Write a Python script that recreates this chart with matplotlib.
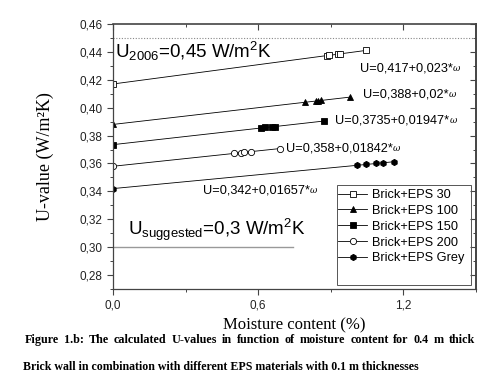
import matplotlib
matplotlib.use("Agg")
import matplotlib.pyplot as plt
from matplotlib.patches import Rectangle
from matplotlib.ticker import MultipleLocator, FuncFormatter, NullFormatter

# moisture content (%) and U-values for each brick + EPS wall
x_eps30 = [0, 0.885, 0.893, 0.931, 0.939, 1.047]
u_eps30 = [0.417, 0.4374, 0.4375, 0.4384, 0.4386, 0.4411]
x_eps100 = [0, 0.794, 0.84, 0.848, 0.86, 0.98]
u_eps100 = [0.388, 0.4039, 0.4048, 0.4050, 0.4052, 0.4076]
x_eps150 = [0, 0.61, 0.63, 0.655, 0.67, 0.87]
u_eps150 = [0.3735, 0.3854, 0.3858, 0.3863, 0.3865, 0.3904]
x_eps200 = [0, 0.50, 0.53, 0.54, 0.57, 0.69]
u_eps200 = [0.358, 0.3672, 0.3678, 0.3679, 0.3685, 0.3707]
x_grey = [0, 1.01, 1.047, 1.088, 1.117, 1.163]
u_grey = [0.342, 0.3587, 0.3593, 0.3600, 0.3605, 0.3613]

u_2006 = 0.45
u_suggested = 0.30
suggested_end = 0.745

fits = ["U=0,417+0,023*", "U=0,388+0,02*", "U=0,3735+0,01947*",
        "U=0,358+0,01842*", "U=0,342+0,01657*"]
fit_pos = [(1.022, 0.428), (1.034, 0.4098), (0.918, 0.3905),
           (0.716, 0.3708), (0.372, 0.3405)]

caption1 = "Figure 1.b: The calculated U-values in function of moisture content for 0.4 m thick"
caption2 = "Brick wall in combination with different EPS materials with 0.1 m thicknesses"

sans = "Liberation Sans"
serif = "Liberation Serif"
plt.rcParams["mathtext.fontset"] = "custom"
plt.rcParams["mathtext.rm"] = sans
plt.rcParams["mathtext.default"] = "regular"

fig = plt.figure(figsize=(4.97, 3.86), dpi=100)
ax = fig.add_axes([0.2274, 0.2513, 0.9577 - 0.2274, 0.9378 - 0.2513])

series = [
    (x_eps30, u_eps30, "s", "white", "Brick+EPS 30"),
    (x_eps100, u_eps100, "^", "black", "Brick+EPS 100"),
    (x_eps150, u_eps150, "s", "black", "Brick+EPS 150"),
    (x_eps200, u_eps200, "o", "white", "Brick+EPS 200"),
    (x_grey, u_grey, "h", "black", "Brick+EPS Grey"),
]
for xs, us, m, fc, lab in series:
    ax.plot(xs, us, color="black", lw=0.6, marker=m, ms=4.5, mfc=fc,
            mec="black", mew=0.6, label=lab)

ax.axhline(u_2006, color="#888888", lw=0.8, ls=(0, (1, 1.5)))
ax.plot([0, suggested_end], [u_suggested, u_suggested], color="#999999", lw=1.0)

ax.set_xlim(0, 1.5)
ax.set_ylim(0.27, 0.46)
ax.xaxis.set_major_locator(MultipleLocator(0.6))
ax.xaxis.set_minor_locator(MultipleLocator(0.3))
ax.yaxis.set_major_locator(MultipleLocator(0.02))
ax.yaxis.set_minor_locator(MultipleLocator(0.01))
ax.xaxis.set_major_formatter(FuncFormatter(lambda v, p: f"{v:.1f}".replace(".", ",")))
ax.yaxis.set_major_formatter(FuncFormatter(lambda v, p: f"{v:.2f}".replace(".", ",")))
ax.tick_params(which="both", direction="out", color="#444444")
ax.tick_params(which="major", length=4, width=0.8, labelsize=8.5)
ax.tick_params(which="minor", length=2, width=0.7)
for lbl in ax.get_xticklabels() + ax.get_yticklabels():
    lbl.set_fontfamily(sans)
    lbl.set_color("#222222")
for s in ax.spines.values():
    s.set_color("#444444")
    s.set_linewidth(0.9)
ax.spines["top"].set_linewidth(1.2)
ax.spines["right"].set_linewidth(1.4)

# mirrored ticks on top / right point inwards
top = ax.secondary_xaxis("top")
top.xaxis.set_major_locator(MultipleLocator(0.6))
top.xaxis.set_minor_locator(MultipleLocator(0.3))
top.xaxis.set_major_formatter(NullFormatter())
top.tick_params(which="both", direction="in", color="#444444")
top.tick_params(which="major", length=4, width=0.8)
top.tick_params(which="minor", length=2, width=0.7)
top.spines["top"].set_visible(False)
rgt = ax.secondary_yaxis("right")
rgt.yaxis.set_major_locator(MultipleLocator(0.02))
rgt.yaxis.set_minor_locator(MultipleLocator(0.01))
rgt.yaxis.set_major_formatter(NullFormatter())
rgt.tick_params(which="both", direction="in", color="#444444")
rgt.tick_params(which="major", length=4, width=0.8)
rgt.tick_params(which="minor", length=2, width=0.7)
rgt.spines["right"].set_visible(False)

ax.set_xlabel("Moisture content (%)", family=serif, fontsize=12, labelpad=4)
ax.set_ylabel("U-value (W/m²K)", family=serif, fontsize=13, labelpad=18)

ax.text(0.01, 0.4405, "U$_{2006}$=0,45 W/m$^2$K", family=sans, fontsize=13.5,
        va="center", ha="left")
ax.text(0.06, 0.3125, "U$_{suggested}$=0,3 W/m$^2$K", family=sans, fontsize=13.5,
        va="center", ha="left")

# fit equations, with a small omega tacked on the end
for txt, (tx, ty) in zip(fits, fit_pos):
    t = ax.text(tx, ty, txt, family=sans, fontsize=9.2, va="center", ha="left")
    ax.annotate("ω", xy=(1, 0.5), xycoords=t, va="center", ha="left",
                family="DejaVu Serif", style="italic", fontsize=6.5)

# legend without its own frame, frame drawn as a box in figure pixels
fig.patches.append(Rectangle((337 / 497, 1 - 285 / 386), 134 / 497, 100 / 386,
                             transform=fig.transFigure, fill=False,
                             edgecolor="#555555", lw=0.7, zorder=5))
leg = ax.legend(loc="upper left", bbox_to_anchor=(338 / 497, 1 - 189 / 386),
                bbox_transform=fig.transFigure,
                prop={"family": sans, "size": 9.2}, frameon=False,
                borderpad=0, labelspacing=0.3, handlelength=2.3,
                handletextpad=0.35, borderaxespad=0)

# caption, first line justified across the page width
fig.canvas.draw()
r = fig.canvas.get_renderer()
cap_kw = dict(family=serif, fontsize=8.7, weight="bold", va="center", ha="left")
words = caption1.split(" ")
arts = [fig.text(0, 0.119, w, **cap_kw) for w in words]
widths = [a.get_window_extent(r).width for a in arts]
left, right = 25, 475
gap = (right - left - sum(widths)) / (len(words) - 1)
xpos = left
for a, w in zip(arts, widths):
    a.set_x(xpos / 497)
    xpos += w + gap
cap_kw["fontsize"] = 8.55
fig.text(23 / 497, 0.049, caption2, **cap_kw)

fig.savefig("out.png", dpi=100)
